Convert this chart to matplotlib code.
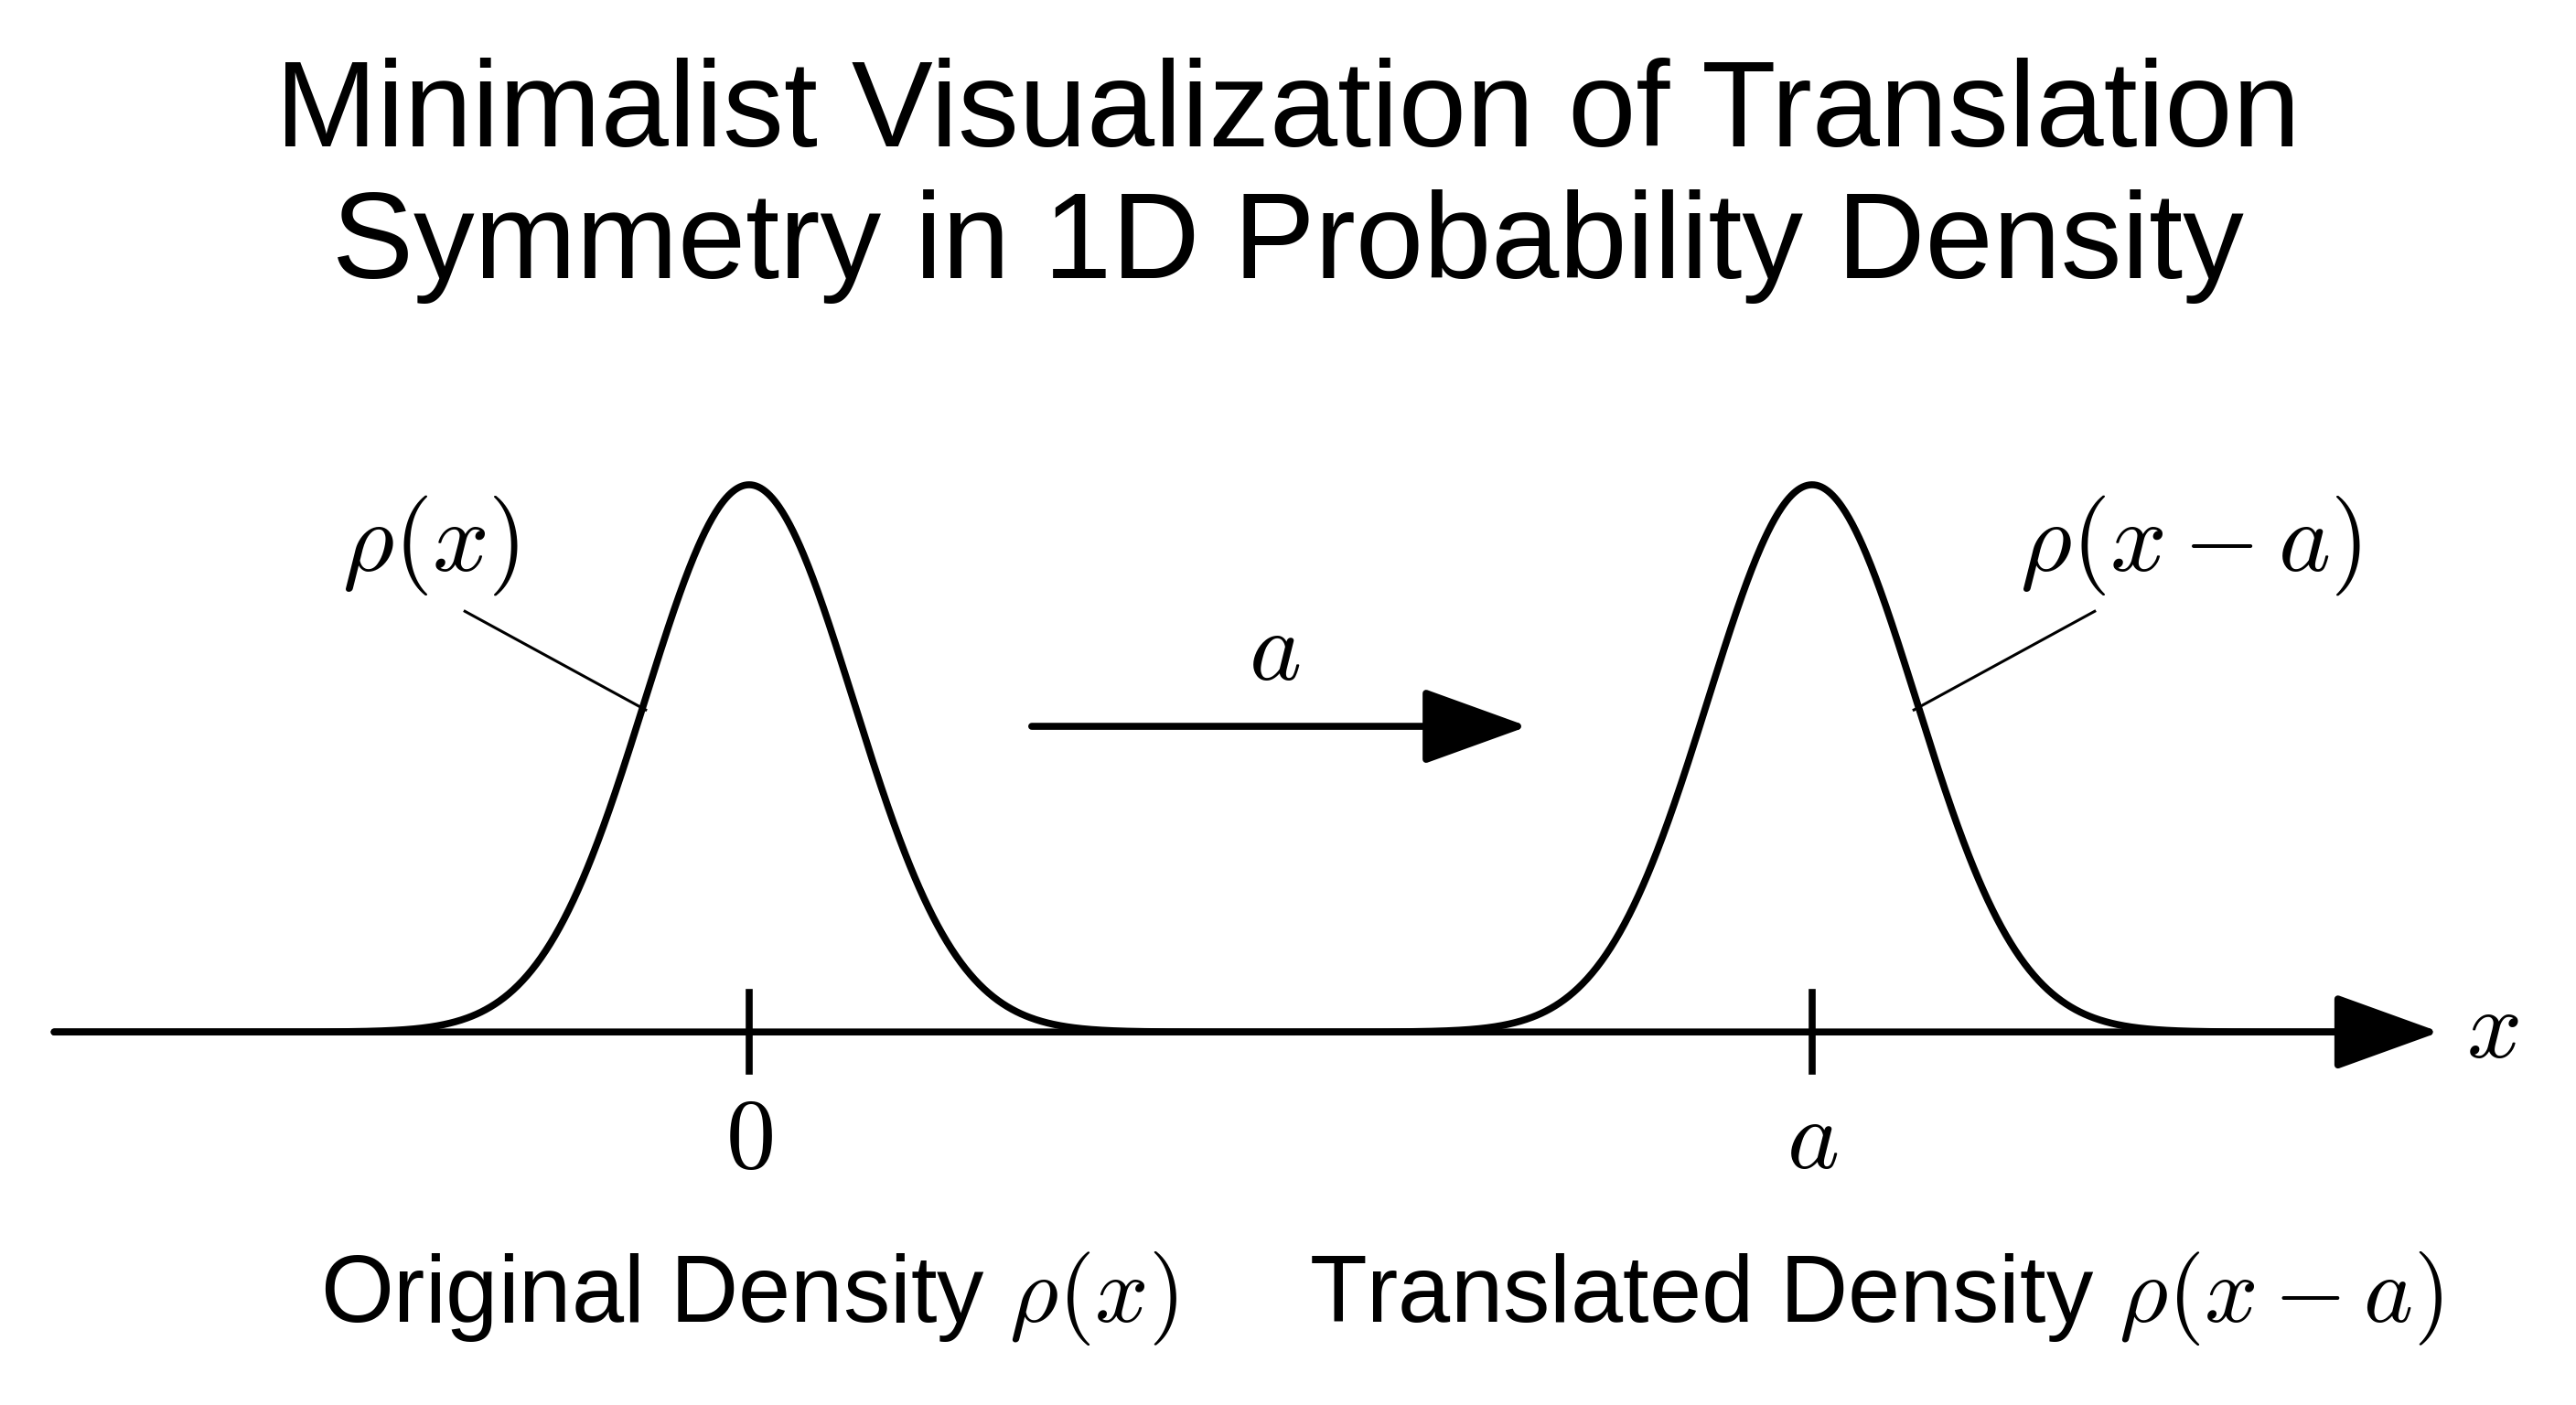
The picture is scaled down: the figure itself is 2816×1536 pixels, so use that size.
import numpy as np
import matplotlib
matplotlib.use("Agg")
import matplotlib.pyplot as plt

plt.rcParams['mathtext.fontset'] = 'cm'
plt.rcParams['font.family'] = ['Liberation Sans', 'DejaVu Sans']

# data
centers = [0.0, 1.0]          # 0 and a
sigma = 0.098
tick_labels = [r'$0$', r'$a$']
curve_labels = [r'$\rho(x)$', r'$\rho(x-a)$']
bottom_labels = [r'Original Density $\rho(x)$', r'Translated Density $\rho(x-a)$']
title = "Minimalist Visualization of Translation\nSymmetry in 1D Probability Density"

W, H = 1568, 855
X0, XS = 456, 647     # pixel of x=0, pixels per unit
Y0, YS = 628, 333     # pixel of y=0, pixels per unit
def dx(px): return (px - X0) / XS
def dy(py): return (Y0 - py) / YS

fig = plt.figure(figsize=(28.16, 15.36), dpi=100)
ax = fig.add_axes([0, 0, 1, 1])
ax.set_xlim(dx(0), dx(W))
ax.set_ylim(dy(H), dy(0))
ax.axis('off')

lw = 5.5
x = np.linspace(dx(33), dx(1440), 2000)
y = sum(np.exp(-(x - c) ** 2 / (2 * sigma ** 2)) for c in centers)
ax.plot(x, y, color='black', lw=lw, solid_capstyle='round')

arrow = dict(arrowstyle='-|>,head_length=1.8,head_width=0.65', mutation_scale=40,
             lw=lw, color='black', shrinkA=0, shrinkB=0)
# x axis with arrow
ax.annotate('', xy=(dx(1485), 0), xytext=(dx(33), 0), arrowprops=arrow)
ax.text(dx(1517), 0, r'$x$', fontsize=76, ha='center', va='center')

# ticks
for c, lab in zip(centers, tick_labels):
    ax.plot([c, c], [dy(604), dy(652)], color='black', lw=lw)
    ax.text(c, dy(695), lab, fontsize=78, ha='center', va='center')

# translation arrow
ax.annotate('', xy=(dx(930), dy(442)), xytext=(dx(628), dy(442)), arrowprops=arrow)
ax.text(dx(776), dy(398), r'$a$', fontsize=78, ha='center', va='center')

# curve labels with leader lines
ax.text(dx(262), dy(332), curve_labels[0], fontsize=78, ha='center', va='center')
ax.plot([dx(283), dx(393)], [dy(372), dy(432)], color='black', lw=2.2)
ax.text(dx(1333), dy(332), curve_labels[1], fontsize=78, ha='center', va='center')
ax.plot([dx(1275), dx(1165)], [dy(372), dy(432)], color='black', lw=2.2)

# bottom labels
ax.text(dx(456), dy(790), bottom_labels[0], fontsize=74, ha='center', va='center')
ax.text(dx(1142), dy(790), bottom_labels[1], fontsize=74, ha='center', va='center')

ax.text(dx(784), dy(110), title, fontsize=96, ha='center', va='center', linespacing=1.2)

fig.savefig('out.png', dpi=100)
